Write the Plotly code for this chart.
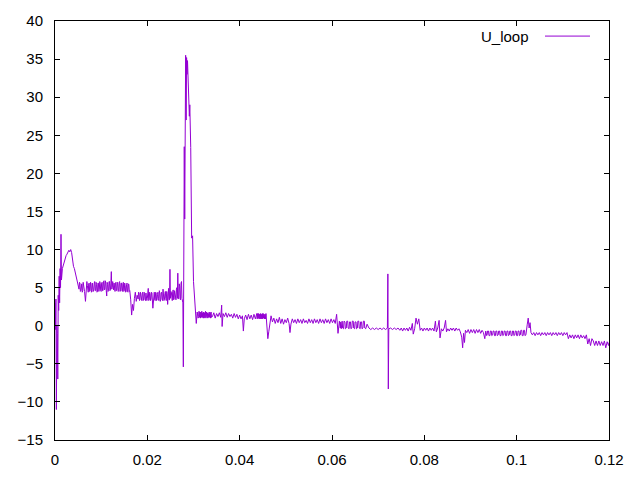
import plotly.graph_objects as go

# (time [s], U_loop [V]) samples, by segment
startup = [
    (0.0000, 3.0), (0.0001, -0.5), (0.0002, 3.5), (0.0003, -11.0), (0.0004, 0.0),
    (0.0005, -1.0), (0.0006, -7.0), (0.0007, 4.0), (0.0008, 2.0), (0.0009, 6.5),
    (0.0010, 3.0), (0.0011, 7.5), (0.0012, 5.0), (0.0013, 12.0), (0.0014, 6.0),
    (0.0016, 7.5), (0.0018, 8.0), (0.0020, 8.5), (0.0022, 8.8), (0.0024, 9.2),
    (0.0026, 9.4), (0.0028, 9.6), (0.0030, 9.9), (0.0032, 9.7), (0.0034, 10.0),
    (0.0036, 9.6), (0.0038, 8.5), (0.0040, 7.8), (0.0042, 7.5), (0.0044, 7.0),
    (0.0046, 6.4), (0.0048, 5.9), (0.0050, 5.4),
]

plateau_high = [
    (0.0052, 4.8), (0.0053, 5.7), (0.0054, 5.6), (0.0055, 4.5), (0.0056, 4.6),
    (0.0058, 5.5), (0.0059, 4.4), (0.0060, 4.6), (0.0061, 5.7), (0.0062, 5.4),
    (0.0063, 4.6), (0.0064, 4.5), (0.0066, 3.2), (0.0068, 4.7), (0.0069, 5.8),
    (0.0070, 5.3), (0.0071, 4.5), (0.0072, 4.4), (0.0073, 5.5), (0.0074, 5.6),
    (0.0075, 4.5), (0.0076, 4.6), (0.0077, 5.7), (0.0078, 5.5), (0.0079, 4.4),
    (0.0080, 4.5), (0.0081, 5.6), (0.0082, 5.2), (0.0083, 4.5), (0.0084, 4.7),
    (0.0085, 5.6), (0.0086, 5.8), (0.0087, 4.6), (0.0088, 4.6), (0.0089, 5.7),
    (0.0090, 5.4), (0.0091, 4.4), (0.0092, 4.5), (0.0093, 5.6), (0.0094, 5.6),
    (0.0095, 4.5), (0.0096, 4.8), (0.0097, 5.8), (0.0098, 5.5), (0.0099, 4.6),
    (0.0100, 4.5), (0.0101, 5.6), (0.0102, 5.7), (0.0103, 4.6), (0.0104, 4.6),
    (0.0105, 5.8), (0.0106, 5.9), (0.0107, 4.7), (0.0108, 4.8), (0.0109, 5.9),
    (0.0110, 5.6), (0.0111, 4.6), (0.0112, 3.9), (0.0113, 5.7), (0.0114, 5.4),
    (0.0115, 4.5), (0.0116, 4.6), (0.0117, 5.8), (0.0118, 5.8), (0.0119, 4.6),
    (0.0120, 4.7), (0.0121, 5.6), (0.0122, 7.1), (0.0123, 4.8), (0.0124, 5.0),
    (0.0125, 5.8), (0.0126, 5.5), (0.0127, 4.7), (0.0128, 5.6), (0.0129, 4.6),
    (0.0130, 4.5), (0.0131, 5.6), (0.0132, 5.7), (0.0133, 4.6), (0.0134, 4.6),
    (0.0135, 5.7), (0.0136, 5.5), (0.0137, 4.5), (0.0138, 4.6), (0.0139, 5.7),
    (0.0140, 5.8), (0.0141, 4.5), (0.0142, 4.7), (0.0143, 5.6), (0.0144, 5.6),
    (0.0145, 4.6), (0.0146, 4.5), (0.0147, 5.5), (0.0148, 5.7), (0.0149, 4.5),
    (0.0150, 4.6), (0.0151, 5.6), (0.0152, 5.3), (0.0153, 4.4), (0.0154, 4.5),
    (0.0155, 5.4), (0.0156, 5.6), (0.0157, 4.5), (0.0158, 4.4), (0.0159, 5.5),
    (0.0160, 5.4), (0.0161, 4.5), (0.0162, 4.6),
]

plateau_low = [
    (0.0164, 3.4), (0.0166, 1.4), (0.0168, 2.8), (0.0170, 2.0), (0.0172, 3.6),
    (0.0174, 4.4), (0.0176, 3.2), (0.0178, 4.0), (0.0180, 3.5), (0.0181, 4.4),
    (0.0182, 4.3), (0.0183, 3.3), (0.0184, 3.4), (0.0185, 4.4), (0.0186, 4.1),
    (0.0187, 3.4), (0.0188, 3.3), (0.0189, 4.3), (0.0190, 4.4), (0.0191, 3.3),
    (0.0192, 3.5), (0.0193, 4.4), (0.0194, 4.2), (0.0195, 3.4), (0.0196, 3.3),
    (0.0197, 4.3), (0.0198, 4.0), (0.0199, 3.3), (0.0200, 3.6), (0.0202, 4.9),
    (0.0203, 3.3), (0.0204, 3.4), (0.0205, 4.4), (0.0206, 4.2), (0.0207, 3.3),
    (0.0208, 3.5), (0.0209, 4.4), (0.0210, 4.3), (0.0212, 2.3), (0.0213, 3.5),
    (0.0214, 4.0), (0.0215, 4.4), (0.0216, 3.4), (0.0217, 3.3), (0.0218, 4.4),
    (0.0219, 4.3), (0.0220, 3.3), (0.0221, 3.4), (0.0222, 4.1), (0.0223, 4.4),
    (0.0224, 3.6), (0.0225, 3.3), (0.0226, 4.6), (0.0227, 4.3), (0.0228, 3.2),
    (0.0229, 3.4), (0.0230, 4.3), (0.0231, 4.4), (0.0232, 3.5), (0.0233, 3.3),
    (0.0234, 4.8), (0.0235, 4.2), (0.0236, 3.3), (0.0237, 3.4), (0.0238, 4.2),
    (0.0239, 4.5), (0.0240, 3.6), (0.0241, 3.3), (0.0242, 4.5), (0.0243, 4.2),
    (0.0244, 2.8), (0.0246, 4.9), (0.0247, 3.4), (0.0248, 3.4), (0.0249, 7.4),
    (0.0250, 3.6), (0.0251, 4.5), (0.0252, 4.4), (0.0253, 3.4), (0.0254, 3.3),
    (0.0255, 4.5), (0.0256, 4.7), (0.0257, 3.4), (0.0258, 3.5), (0.0259, 4.6),
    (0.0260, 4.2), (0.0261, 3.4), (0.0262, 3.4), (0.0263, 4.8), (0.0264, 5.0),
    (0.0265, 3.6), (0.0266, 6.9), (0.0267, 3.5), (0.0268, 3.6), (0.0269, 5.5),
    (0.0270, 5.2), (0.0271, 3.5), (0.0272, 3.4), (0.0273, 5.6), (0.0274, 5.8),
    (0.0275, 3.6), (0.0276, 3.0),
]

spike = [
    (0.02770, 3.0), (0.02780, -5.4), (0.02790, 4.0), (0.02800, 23.5), (0.02810, 14.0),
    (0.02820, 30.0), (0.02830, 35.5), (0.02840, 27.0), (0.02850, 35.2), (0.02860, 33.0),
    (0.02870, 34.8), (0.02880, 32.5), (0.02890, 29.3), (0.02900, 30.0), (0.02910, 27.5),
    (0.02920, 29.0), (0.02940, 23.4), (0.02960, 11.5), (0.02980, 11.8), (0.03000, 5.8),
    (0.03020, 4.2), (0.03040, 3.2), (0.03060, 0.3), (0.03080, 1.8),
]

flat_top = [
    (0.0310, 1.0), (0.0311, 1.2), (0.0312, 1.9), (0.0313, 1.1), (0.0314, 1.8),
    (0.0315, 1.0), (0.0316, 1.8), (0.0317, 1.1), (0.0318, 1.9), (0.0319, 1.1),
    (0.0320, 1.7), (0.0321, 1.0), (0.0322, 1.8), (0.0323, 1.0), (0.0324, 1.7),
    (0.0325, 1.1), (0.0326, 1.9), (0.0327, 1.0), (0.0328, 1.8), (0.0329, 1.2),
    (0.0330, 1.7), (0.0331, 1.0), (0.0332, 1.6), (0.0333, 1.1), (0.0334, 1.8),
    (0.0335, 1.1), (0.0336, 1.7), (0.0337, 1.0), (0.0338, 1.8), (0.0339, 1.1),
    (0.0341, 1.2), (0.0344, 1.7), (0.0347, 1.0), (0.0350, 1.6), (0.0353, 1.2),
    (0.0356, 1.7), (0.0359, 1.1), (0.0361, 2.7), (0.0362, -0.1), (0.0364, 1.6),
    (0.0367, 1.2), (0.0370, 1.7), (0.0373, 1.1), (0.0376, 1.6), (0.0379, 1.2),
    (0.0382, 1.5), (0.0385, 1.0), (0.0388, 1.6), (0.0391, 1.1), (0.0394, 1.5),
    (0.0397, 0.9), (0.0400, 1.4), (0.0403, 0.9), (0.0406, 1.3), (0.0408, -0.7),
    (0.0410, 0.9), (0.0413, 1.4), (0.0416, 0.8), (0.0419, 1.5), (0.0422, 0.9),
    (0.0425, 1.4), (0.0428, 0.8), (0.0431, 1.5), (0.0434, 0.9), (0.0437, 1.6),
    (0.0438, 0.9), (0.0439, 1.6), (0.0440, 1.0), (0.0441, 1.6), (0.0442, 0.9),
    (0.0443, 1.5), (0.0444, 0.9), (0.0445, 1.6), (0.0446, 0.9), (0.0447, 1.5),
    (0.0448, 0.9), (0.0449, 1.6), (0.0450, 0.9), (0.0451, 1.6), (0.0452, 1.0),
    (0.0453, 1.5), (0.0454, 0.9), (0.0455, 1.5), (0.0456, 0.9), (0.0457, 1.6),
    (0.0458, 0.8), (0.0461, -1.7), (0.0463, -0.8), (0.0465, 0.4),
    (0.0468, 1.3), (0.0471, 0.5),
]

flat_mid = [
    (0.0474, 1.0), (0.0477, 0.3), (0.0480, 0.9), (0.0483, 0.4), (0.0486, 1.1),
    (0.0489, 0.3), (0.0492, 0.9), (0.0495, 0.2), (0.0498, 0.8), (0.0501, 0.4),
    (0.0504, 1.0), (0.0507, 0.3), (0.0509, -0.9), (0.0511, 0.2), (0.0514, 0.9),
    (0.0517, 0.4), (0.0520, 0.8), (0.0523, 0.3), (0.0526, 0.9), (0.0529, 0.4),
    (0.0532, 0.8), (0.0535, 0.3), (0.0538, 0.9), (0.0541, 0.4), (0.0544, 0.7),
    (0.0547, 0.3), (0.0550, 0.9), (0.0553, 0.4), (0.0556, 0.8), (0.0559, 0.3),
    (0.0562, 0.9), (0.0565, 0.4), (0.0568, 0.8), (0.0571, 0.3), (0.0574, 0.9),
    (0.0577, 0.4), (0.0580, 0.8), (0.0583, 0.3), (0.0586, 0.9), (0.0589, 0.4),
    (0.0592, 0.8), (0.0595, 0.3), (0.0598, 0.9), (0.0601, 0.4), (0.0604, 0.8),
    (0.0607, 0.3), (0.0610, 1.5), (0.0613, -1.0), (0.0616, 0.6),
    (0.0618, -0.3), (0.0619, 0.5), (0.0620, -0.4), (0.0622, 0.6), (0.0623, -0.3),
    (0.0625, -0.4), (0.0626, 0.6), (0.0628, 0.5), (0.0629, -0.4), (0.0631, -0.3),
    (0.0632, 0.6), (0.0634, 0.6), (0.0635, -0.3), (0.0637, -0.4), (0.0638, 0.5),
    (0.0640, 0.5), (0.0641, -0.4), (0.0643, -0.3), (0.0644, 0.6), (0.0646, 0.6),
    (0.0647, -0.3), (0.0649, -0.4), (0.0650, 0.5), (0.0652, 0.5), (0.0653, -0.4),
    (0.0655, -0.3), (0.0656, 0.6), (0.0658, 0.6), (0.0659, -0.3), (0.0661, -0.4),
    (0.0662, 0.5), (0.0664, 0.5), (0.0665, -0.4), (0.0667, -0.3), (0.0668, 0.6),
    (0.0670, 0.6), (0.0671, -0.3), (0.0673, -0.4), (0.0676, 0.2),
]

flat_zero = [
    (0.0680, -0.3), (0.0684, -0.5), (0.0688, -0.3), (0.0692, -0.5), (0.0696, -0.3),
    (0.0700, -0.5), (0.0704, -0.3), (0.0708, -0.5), (0.0712, -0.3), (0.0716, -0.5),
    (0.0720, -0.3), (0.0721, 6.8), (0.0722, -8.3), (0.0723, -0.4), (0.0727, -0.3),
    (0.0731, -0.5), (0.0735, -0.3), (0.0739, -0.5), (0.0743, -0.3), (0.0747, -0.6),
    (0.0750, -0.3), (0.0753, -0.7), (0.0756, -0.3), (0.0759, -0.6), (0.0762, -0.3),
    (0.0765, -0.7), (0.0768, -0.2), (0.0771, -0.6), (0.0774, 0.3), (0.0776, -1.1),
    (0.0779, -0.4), (0.0782, 1.0), (0.0785, 0.2), (0.0788, 0.9), (0.0791, -0.6),
    (0.0794, -0.3), (0.0797, -0.7), (0.0800, -0.3), (0.0803, -0.6), (0.0806, -0.3),
    (0.0809, -0.7), (0.0812, -0.3), (0.0815, -0.6), (0.0818, -0.3), (0.0821, -0.7),
    (0.0824, 0.6), (0.0826, -0.8), (0.0829, -0.3), (0.0832, 0.7), (0.0834, -1.6),
    (0.0837, -0.4), (0.0840, -0.7), (0.0843, -0.3), (0.0846, 0.7), (0.0848, -0.8),
    (0.0851, -0.4), (0.0854, -0.7), (0.0857, -0.3), (0.0860, -0.6), (0.0863, -0.3),
    (0.0866, -0.7), (0.0869, -0.3), (0.0872, -0.6), (0.0875, -0.4), (0.0878, -0.8),
]

flat_neg = [
    (0.0881, -1.5), (0.0883, -2.9), (0.0885, -1.0), (0.0887, -2.2), (0.0889, -0.6),
    (0.0892, -0.9), (0.0895, -0.5), (0.0898, -1.0), (0.0901, -0.5), (0.0904, -0.9),
    (0.0907, -0.5), (0.0910, -1.0), (0.0913, -0.5), (0.0916, -0.9), (0.0919, -0.5),
    (0.0922, -1.0), (0.0925, -0.6), (0.0928, -0.9), (0.0931, -1.7), (0.0933, -0.7),
    (0.0935, -1.3), (0.0936, -1.2), (0.0937, -0.7), (0.0939, -0.7), (0.0940, -1.3),
    (0.0942, -1.3), (0.0943, -0.7), (0.0945, -0.7), (0.0946, -1.3), (0.0948, -1.2),
    (0.0949, -0.7), (0.0951, -0.7), (0.0952, -1.3), (0.0954, -1.3), (0.0955, -0.7),
    (0.0957, -0.7), (0.0958, -1.3), (0.0960, -1.2), (0.0961, -0.7), (0.0963, -0.7),
    (0.0964, -1.3), (0.0966, -1.3), (0.0967, -0.7), (0.0969, -0.7), (0.0970, -1.3),
    (0.0972, -1.2), (0.0973, -0.7), (0.0975, -0.7), (0.0976, -1.3), (0.0978, -1.3),
    (0.0979, -0.7), (0.0981, -0.7), (0.0982, -1.3), (0.0984, -1.2), (0.0985, -0.7),
    (0.0987, -0.7), (0.0988, -1.3), (0.0990, -1.3), (0.0991, -0.7), (0.0993, -0.7),
    (0.0994, -1.3), (0.0996, -1.2), (0.0997, -0.7), (0.0999, -0.7), (0.1000, -1.3),
    (0.1002, -1.3), (0.1003, -0.7), (0.1005, -0.7), (0.1006, -1.3), (0.1008, -1.2),
    (0.1009, -0.6), (0.1011, -0.6), (0.1012, -1.3), (0.1014, -1.3), (0.1015, -0.6),
    (0.1017, -0.6), (0.1018, -1.3), (0.1020, -1.2), (0.1023, 0.2),
    (0.1025, 1.0), (0.1027, -0.3), (0.1029, 0.4), (0.1031, -0.9), (0.1034, -1.2),
]

tail = [
    (0.1037, -0.9), (0.1040, -1.3), (0.1043, -0.9), (0.1046, -1.2), (0.1049, -0.9),
    (0.1052, -1.3), (0.1055, -0.9), (0.1058, -1.2), (0.1061, -0.9), (0.1064, -1.3),
    (0.1067, -0.9), (0.1070, -1.2), (0.1073, -0.9), (0.1076, -1.3), (0.1079, -0.9),
    (0.1082, -1.2), (0.1085, -0.9), (0.1088, -1.3), (0.1091, -0.9), (0.1094, -1.2),
    (0.1097, -0.9), (0.1100, -1.3), (0.1103, -0.9), (0.1106, -1.2), (0.1109, -0.9),
    (0.1112, -1.7), (0.1115, -1.2), (0.1118, -1.6), (0.1121, -1.2), (0.1124, -1.7),
    (0.1127, -1.2), (0.1130, -1.6), (0.1133, -1.2), (0.1136, -1.7), (0.1139, -1.2),
    (0.1142, -1.6), (0.1145, -1.3), (0.1148, -1.7), (0.1151, -1.2), (0.1154, -2.4),
    (0.1157, -1.7), (0.1160, -2.6), (0.1163, -1.7), (0.1166, -2.0), (0.1169, -2.6),
    (0.1172, -2.0), (0.1175, -2.6), (0.1178, -2.0), (0.1181, -2.6), (0.1184, -2.1),
    (0.1187, -2.6), (0.1190, -2.0), (0.1193, -2.9), (0.1196, -2.1), (0.1199, -2.6),
    (0.1200, -2.2),
]

x_ticks = [0, 0.02, 0.04, 0.06, 0.08, 0.1, 0.12]
x_tick_labels = ["0", "0.02", "0.04", "0.06", "0.08", "0.1", "0.12"]
y_ticks = [-15, -10, -5, 0, 5, 10, 15, 20, 25, 30, 35, 40]
series_name = "U_loop"

samples = (startup + plateau_high + plateau_low + spike + flat_top
           + flat_mid + flat_zero + flat_neg + tail)
t = [p[0] for p in samples]
u = [p[1] for p in samples]

COLOR = "#9400D3"
FONT = "Liberation Sans, Arial, sans-serif"

fig = go.Figure()
fig.add_trace(go.Scatter(x=t, y=u, mode="lines", name=series_name,
                         line=dict(color=COLOR, width=1), showlegend=False,
                         hoverinfo="skip"))

axis_common = dict(showline=True, linecolor="black", linewidth=1, mirror="ticks",
                   ticks="inside", ticklen=5, tickcolor="black", tickwidth=1,
                   showgrid=False, zeroline=False,
                   tickfont=dict(family=FONT, size=15, color="black"))

fig.update_xaxes(range=[0, 0.12], tickvals=x_ticks, ticktext=x_tick_labels,
                 ticklabelstandoff=6, **axis_common)
fig.update_yaxes(range=[-15, 40], tickvals=y_ticks, ticklabelstandoff=8, **axis_common)

# gnuplot-style key: label then line sample, top right
fig.add_annotation(x=0.859, y=0.964, xref="paper", yref="paper", text=series_name,
                   showarrow=False, xanchor="right", yanchor="middle",
                   font=dict(family=FONT, size=15, color="black"))
fig.add_shape(type="line", xref="paper", yref="paper", x0=0.8845, x1=0.9657,
              y0=0.964, y1=0.964, line=dict(color=COLOR, width=1))

fig.update_layout(width=640, height=480, plot_bgcolor="white", paper_bgcolor="white",
                  margin=dict(l=55, r=31, t=18, b=40), showlegend=False)

fig.write_html("out.html", config={"displayModeBar": False},
               post_script="document.body.style.margin='0';document.body.style.padding='0';")
